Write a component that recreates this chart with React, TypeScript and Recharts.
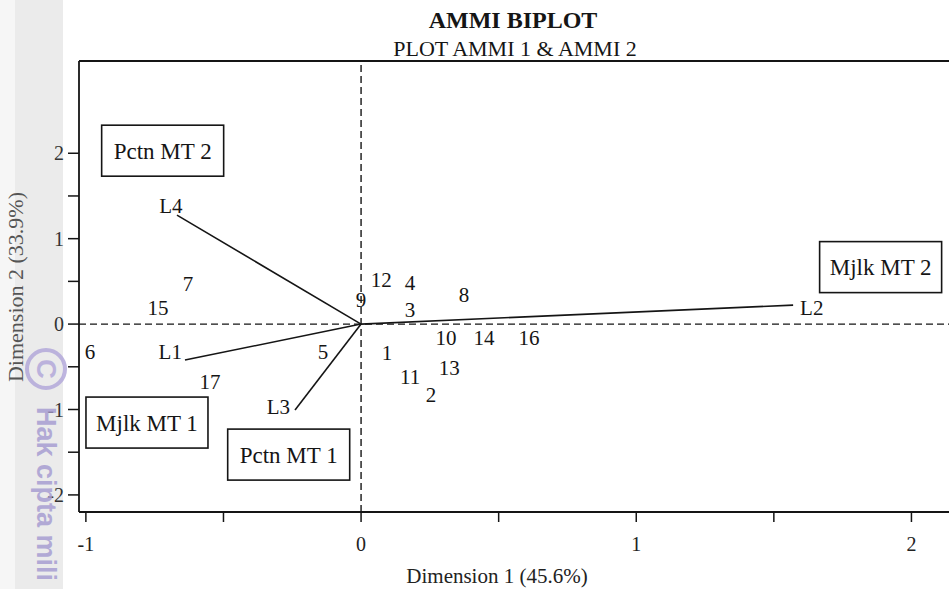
import React from 'react';
import { ScatterChart, Scatter, XAxis, YAxis, ReferenceLine } from 'recharts';

const SERIF = '"Liberation Serif", "Times New Roman", serif';
const SANS = '"Liberation Sans", Arial, sans-serif';
const INK = '#151515';

// axis ranges and ticks
const X_MIN = -1.025;
const X_MAX = 2.3;
const Y_MIN = -2.2;
const Y_MAX = 3.08;
const X_TICKS = [-1, -0.5, 0, 0.5, 1, 1.5, 2];
const Y_TICKS = [-2, -1.5, -1, -0.5, 0, 0.5, 1, 1.5, 2];

// genotype scores (AMMI 1, AMMI 2)
const GENOTYPES = ['1', '2', '3', '4', '5', '6', '7', '8', '9', '10', '11', '12', '13', '14', '15', '16', '17'];
const GEN_X = [0.094, 0.254, 0.178, 0.178, -0.138, -0.985, -0.629, 0.374, 0.0, 0.309, 0.178, 0.073, 0.32, 0.447, -0.738, 0.61, -0.549];
const GEN_Y = [-0.34, -0.831, 0.164, 0.48, -0.328, -0.328, 0.468, 0.34, 0.281, -0.164, -0.621, 0.515, -0.515, -0.164, 0.187, -0.164, -0.679];

// environment (location) vectors
const ENVS = ['L1', 'L2', 'L3', 'L4'];
const ENV_X = [-0.64, 1.57, -0.24, -0.669];
const ENV_Y = [-0.421, 0.222, -1.007, 1.276];

// group boxes
const GROUPS = ['Pctn MT 2', 'Mjlk MT 2', 'Mjlk MT 1', 'Pctn MT 1'];
const GROUP_X = [-0.721, 1.888, -0.778, -0.263];
const GROUP_Y = [2.03, 0.667, -1.153, -1.528];

const genData = GENOTYPES.map((name, i) => ({ name, x: GEN_X[i], y: GEN_Y[i] }));
const envData = ENVS.map((name, i) => ({ name, x: ENV_X[i], y: ENV_Y[i] }));
const groupData = GROUPS.map((name, i) => ({ name, x: GROUP_X[i], y: GROUP_Y[i] }));

// where each vector label sits relative to the arrow tip
const envLabel: Record<string, { dx: number; dy: number; anchor: string }> = {
  L1: { dx: -3, dy: -8, anchor: 'end' },
  L2: { dx: 7, dy: 3, anchor: 'start' },
  L3: { dx: -5, dy: -3, anchor: 'end' },
  L4: { dx: -6, dy: -9, anchor: 'middle' },
};

const GenLabel = (p: any) => (
  <text x={p.cx} y={p.cy} dy="0.35em" textAnchor="middle" fontSize={21} fontFamily={SERIF} fill={INK}>
    {p.payload.name}
  </text>
);

const EnvLabel = (p: any) => {
  const o = envLabel[p.payload.name];
  return (
    <text x={p.cx + o.dx} y={p.cy + o.dy} dy="0.35em" textAnchor={o.anchor} fontSize={21} fontFamily={SERIF} fill={INK}>
      {p.payload.name}
    </text>
  );
};

const GroupBox = (p: any) => (
  <g>
    <rect x={p.cx - 61} y={p.cy - 25.5} width={122} height={51} fill="none" stroke={INK} strokeWidth={1.6} />
    <text x={p.cx} y={p.cy} dy="0.35em" textAnchor="middle" fontSize={23} fontFamily={SERIF} fill={INK}>
      {p.payload.name}
    </text>
  </g>
);

const fmtTick = (v: number) => (Number.isInteger(v) ? String(v) : '');

export default function App() {
  return (
    <div style={{ position: 'fixed', left: 0, top: 0, width: 949, height: 589, overflow: 'hidden', background: '#fff' }}>
      {/* scanned page edge */}
      <div style={{ position: 'absolute', left: 0, top: 0, width: 15, height: 589, background: '#f6f6f6' }} />
      <div style={{ position: 'absolute', left: 15, top: 0, width: 48, height: 589, background: '#ebebeb' }} />

      <div style={{ position: 'absolute', left: 0, top: 0 }}>
        <ScatterChart width={1000} height={589} margin={{ top: 61, right: 6, bottom: 0, left: 0 }}>
          <XAxis
            type="number"
            dataKey="x"
            domain={[X_MIN, X_MAX]}
            ticks={X_TICKS}
            tickFormatter={fmtTick}
            allowDataOverflow
            height={77}
            tickSize={10}
            tickMargin={15}
            axisLine={{ stroke: INK, strokeWidth: 1.8 }}
            tickLine={{ stroke: INK, strokeWidth: 1.5 }}
            tick={{ fontSize: 20, fill: '#222', fontFamily: SERIF }}
          />
          <YAxis
            type="number"
            dataKey="y"
            domain={[Y_MIN, Y_MAX]}
            ticks={Y_TICKS}
            tickFormatter={fmtTick}
            allowDataOverflow
            width={79}
            tickSize={11}
            tickMargin={4}
            axisLine={{ stroke: INK, strokeWidth: 1.8 }}
            tickLine={{ stroke: INK, strokeWidth: 1.5 }}
            tick={{ fontSize: 20, fill: '#333', fontFamily: SERIF }}
          />
          <ReferenceLine y={Y_MAX} stroke={INK} strokeWidth={1.8} ifOverflow="visible" />
          <ReferenceLine x={0} stroke={INK} strokeWidth={1.4} strokeDasharray="7 4" />
          <ReferenceLine y={0} stroke={INK} strokeWidth={1.4} strokeDasharray="7 4" />
          {envData.map((e) => (
            <ReferenceLine
              key={e.name}
              segment={[{ x: 0, y: 0 }, { x: e.x, y: e.y }]}
              stroke={INK}
              strokeWidth={1.6}
            />
          ))}
          <Scatter data={genData} shape={GenLabel} isAnimationActive={false} />
          <Scatter data={envData} shape={EnvLabel} isAnimationActive={false} />
          <Scatter data={groupData} shape={GroupBox} isAnimationActive={false} />
        </ScatterChart>
      </div>

      <svg width={949} height={589} style={{ position: 'absolute', left: 0, top: 0, pointerEvents: 'none' }}>
        <text x={513} y={28} textAnchor="middle" fontSize={24} fontWeight="bold" fontFamily={SERIF} fill={INK}>
          AMMI BIPLOT
        </text>
        <text x={515} y={56} textAnchor="middle" fontSize={22} fontFamily={SERIF} fill={INK}>
          PLOT AMMI 1 &amp; AMMI 2
        </text>
        <text x={497} y={583} textAnchor="middle" fontSize={21} fontFamily={SERIF} fill="#222">
          Dimension 1 (45.6%)
        </text>
        <text transform="translate(23, 287) rotate(-90)" textAnchor="middle" fontSize={22} fontFamily={SERIF} fill="#555">
          Dimension 2 (33.9%)
        </text>
        {/* watermark of the scanned page */}
        <g opacity={0.85}>
          <circle cx={46} cy={369} r={19} fill="none" stroke="#b3a9da" strokeWidth={4} />
          <text transform="translate(37, 369) rotate(90)" textAnchor="middle" fontSize={27} fontWeight="bold" fontFamily={SANS} fill="#b3a9da">
            C
          </text>
          <text transform="translate(37, 407) rotate(90)" fontSize={27} fontWeight="bold" fontFamily={SANS} fill="#a89ed2">
            Hak cipta mili
          </text>
        </g>
      </svg>
    </div>
  );
}
